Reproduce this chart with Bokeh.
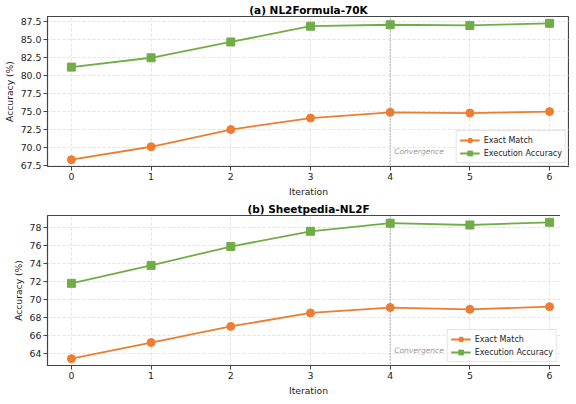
from bokeh.plotting import figure
from bokeh.layouts import column
from bokeh.models import Span, Label, Legend, FixedTicker, Range1d, NumeralTickFormatter
from bokeh.embed import file_html
from bokeh.resources import INLINE

iterations = [0, 1, 2, 3, 4, 5, 6]

# (a) NL2Formula-70K
a_exact = [68.3, 70.1, 72.5, 74.1, 74.9, 74.8, 75.0]
a_exec = [81.2, 82.5, 84.7, 86.9, 87.1, 87.0, 87.3]
a_yticks = [67.5, 70.0, 72.5, 75.0, 77.5, 80.0, 82.5, 85.0, 87.5]

# (b) Sheetpedia-NL2F
b_exact = [63.4, 65.2, 67.0, 68.5, 69.1, 68.9, 69.2]
b_exec = [71.8, 73.8, 75.9, 77.6, 78.5, 78.3, 78.6]
b_yticks = [64, 66, 68, 70, 72, 74, 76, 78]

titles = ["(a) NL2Formula-70K", "(b) Sheetpedia-NL2F"]
series_names = ["Exact Match", "Execution Accuracy"]
convergence_iter = 4

ORANGE = "#ED7D31"
GREEN = "#70AD47"
FONT = "DejaVu Sans"


def make_panel(title, exact, execa, yticks, fmt):
    lo = min(exact + execa)
    hi = max(exact + execa)
    pad = (hi - lo) * 0.05
    p = figure(
        output_backend="svg", toolbar_location=None,
        frame_width=522, frame_height=150,
        x_range=Range1d(-0.3, 6.25), y_range=Range1d(lo - pad, hi + pad),
        min_border_left=38, min_border_right=0, min_border_top=0, min_border_bottom=0,
        title=title,
    )
    p.title.align = "center"
    p.title.text_font = FONT
    p.title.text_font_size = "10.5px"
    p.title.text_font_style = "bold"
    p.title.text_color = "#000000"
    p.title.standoff = 2
    p.title.offset = 0

    p.outline_line_color = "#444444"
    p.outline_line_width = 1.2
    p.outline_line_alpha = 1

    for ax in (p.xaxis[0], p.yaxis[0]):
        ax.major_label_text_font = FONT
        ax.major_label_text_font_size = "9.4px"
        ax.major_label_text_color = "#222222"
        ax.axis_label_text_font = FONT
        ax.axis_label_text_font_size = "9.2px"
        ax.axis_label_text_font_style = "normal"
        ax.axis_label_text_color = "#222222"
        ax.minor_tick_line_color = None
        ax.major_tick_out = 4
        ax.major_tick_in = 0
        ax.major_tick_line_color = "#444444"
        ax.axis_line_color = "#444444"
        ax.major_label_standoff = 2
        ax.axis_label_standoff = 3

    p.xaxis.axis_label = "Iteration"
    p.yaxis.axis_label = "Accuracy (%)"
    p.xaxis.ticker = FixedTicker(ticks=iterations)
    p.yaxis.ticker = FixedTicker(ticks=yticks)
    p.yaxis.formatter = NumeralTickFormatter(format=fmt)

    p.grid.grid_line_color = "#cccccc"
    p.grid.grid_line_dash = "3 2"
    p.grid.grid_line_width = 0.7
    p.grid.grid_line_alpha = 0.8

    vline = Span(location=convergence_iter, dimension="height",
                 line_color="#888888", line_dash="1 2", line_width=1.2)
    p.add_layout(vline)

    lab = Label(x=convergence_iter, y=lo - pad, text="Convergence",
                x_offset=4, y_offset=11,
                text_font=FONT, text_font_size="7.5px", text_font_style="italic",
                text_color="#999999", text_baseline="bottom")
    p.add_layout(lab)

    r1 = p.line(iterations, exact, line_color=ORANGE, line_width=1.8)
    r2 = p.scatter(iterations, exact, marker="circle", size=8,
                   fill_color=ORANGE, line_color=ORANGE)
    r3 = p.line(iterations, execa, line_color=GREEN, line_width=1.8)
    r4 = p.scatter(iterations, execa, marker="square", size=8,
                   fill_color=GREEN, line_color=GREEN)

    legend = Legend(items=[(series_names[0], [r1, r2]), (series_names[1], [r3, r4])],
                    location="bottom_right")
    legend.label_text_font = FONT
    legend.label_text_font_size = "8px"
    legend.label_text_color = "#222222"
    legend.border_line_color = "#cccccc"
    legend.border_line_width = 1
    legend.background_fill_alpha = 0.85
    legend.margin = 3
    legend.padding = 3
    legend.spacing = 1
    legend.glyph_width = 20
    legend.glyph_height = 12
    legend.label_height = 12
    legend.label_standoff = 4
    p.add_layout(legend)
    return p


pa = make_panel(titles[0], a_exact, a_exec, a_yticks, "0.0")
pb = make_panel(titles[1], b_exact, b_exec, b_yticks, "0")

layout = column(pa, pb, spacing=0)
open("out.html", "w").write(file_html(layout, INLINE))
